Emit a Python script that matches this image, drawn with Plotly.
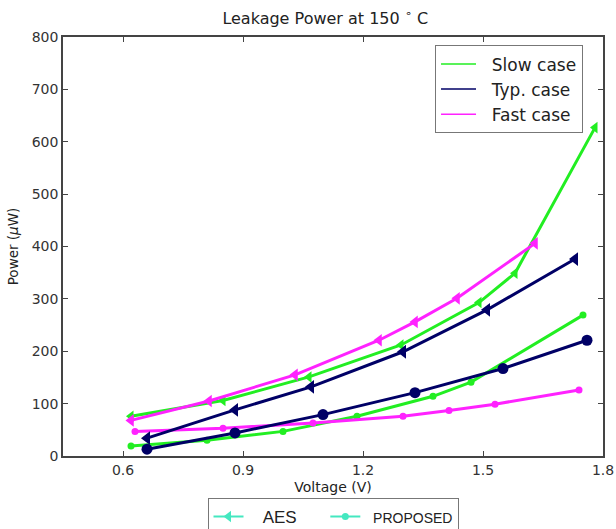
import plotly.graph_objects as go

# ---- data ----
slow_aes_v = [0.62, 0.85, 1.065, 1.295, 1.49, 1.58, 1.78]
slow_aes_p = [76, 106, 151, 212, 293, 349, 627]
typ_aes_v = [0.66, 0.88, 1.07, 1.30, 1.51, 1.73]
typ_aes_p = [34, 88, 132, 199, 279, 376]
fast_aes_v = [0.62, 0.815, 1.03, 1.24, 1.33, 1.435, 1.63]
fast_aes_p = [68, 105, 155, 221, 256, 301, 406]

slow_prop_v = [0.62, 0.81, 1.0, 1.185, 1.375, 1.47, 1.75]
slow_prop_p = [19, 30, 47, 76, 114, 141, 269]
typ_prop_v = [0.66, 0.88, 1.10, 1.33, 1.55, 1.76]
typ_prop_p = [13, 44, 79, 121, 167, 221]
fast_prop_v = [0.63, 0.85, 1.075, 1.30, 1.415, 1.53, 1.74]
fast_prop_p = [47, 53, 63, 76, 87, 99, 126]

case_names = ["Slow case", "Typ. case", "Fast case"]
method_names = ["AES", "PROPOSED"]
x_ticks = [0.6, 0.9, 1.2, 1.5, 1.8]
y_ticks = [0, 100, 200, 300, 400, 500, 600, 700, 800]

GREEN = "#22ee22"
NAVY = "#000066"
MAGENTA = "#ff22ff"
TURQ = "#44e8c0"

fig = go.Figure()

# PROPOSED curves (drawn first)
fig.add_trace(go.Scatter(x=slow_prop_v, y=slow_prop_p, mode="lines+markers",
                         line=dict(color=GREEN, width=3), marker=dict(symbol="circle", size=7, color=GREEN),
                         showlegend=False))
fig.add_trace(go.Scatter(x=fast_prop_v, y=fast_prop_p, mode="lines+markers",
                         line=dict(color=MAGENTA, width=3), marker=dict(symbol="circle", size=7, color=MAGENTA),
                         showlegend=False))
fig.add_trace(go.Scatter(x=typ_prop_v, y=typ_prop_p, mode="lines+markers",
                         line=dict(color=NAVY, width=3), marker=dict(symbol="circle", size=11, color=NAVY),
                         showlegend=False))
# AES curves
fig.add_trace(go.Scatter(x=slow_aes_v, y=slow_aes_p, mode="lines+markers",
                         line=dict(color=GREEN, width=3), marker=dict(symbol="triangle-left", size=10, color=GREEN),
                         showlegend=False))
fig.add_trace(go.Scatter(x=typ_aes_v, y=typ_aes_p, mode="lines+markers",
                         line=dict(color=NAVY, width=3), marker=dict(symbol="triangle-left", size=12, color=NAVY),
                         showlegend=False))
fig.add_trace(go.Scatter(x=fast_aes_v, y=fast_aes_p, mode="lines+markers",
                         line=dict(color=MAGENTA, width=3), marker=dict(symbol="triangle-left", size=11, color=MAGENTA),
                         showlegend=False))

# legend entries: cases
for name, col in zip(case_names, [GREEN, NAVY, MAGENTA]):
    fig.add_trace(go.Scatter(x=[None], y=[None], mode="lines", name="\u00a0\u00a0" + name,
                             line=dict(color=col, width=1.5), legend="legend"))
# legend entries: methods
fig.add_trace(go.Scatter(x=[None], y=[None], mode="lines+markers",
                         name="\u00a0" * 3 + method_names[0] + "\u00a0" * 5,
                         line=dict(color=TURQ, width=2), marker=dict(symbol="triangle-left", size=10, color=TURQ),
                         legend="legend2"))
fig.add_trace(go.Scatter(x=[None], y=[None], mode="lines+markers",
                         name="<span style='font-size:14px'>\u00a0\u00a0" + method_names[1] + "</span>",
                         line=dict(color=TURQ, width=2), marker=dict(symbol="circle", size=7, color=TURQ),
                         legend="legend2"))

axis_common = dict(showline=True, linecolor="#444444", linewidth=1.5, mirror="ticks",
                   ticks="inside", ticklen=5, tickcolor="#444444", tickwidth=1.2,
                   showgrid=False, zeroline=False, automargin=False,
                   tickfont=dict(family="DejaVu Sans", size=14, color="#333333"))

fig.update_layout(
    width=616, height=529,
    margin=dict(l=63, r=13, t=37, b=73, autoexpand=False),
    paper_bgcolor="white", plot_bgcolor="white",
    title=dict(text="Leakage Power at 150 <sup>∘</sup> C", x=0.528, xanchor="center", y=0.965, yanchor="middle",
               font=dict(family="DejaVu Sans", size=16, color="#222222")),
    xaxis=dict(range=[0.45, 1.8], tickvals=x_ticks, ticktext=[f"{v:.1f}" for v in x_ticks],
               title=dict(text="Voltage (V)", font=dict(family="DejaVu Sans", size=14, color="#222222"), standoff=6),
               **axis_common),
    yaxis=dict(range=[0, 800], tickvals=y_ticks,
               title=dict(text="Power (<i>μ</i>W)", font=dict(family="DejaVu Sans", size=13.5, color="#222222"), standoff=10),
               **axis_common),
    legend=dict(x=0.963, xanchor="right", y=0.98, yanchor="top",
                bgcolor="white", bordercolor="#777777", borderwidth=1,
                font=dict(family="DejaVu Sans", size=17, color="#222222"),
                tracegroupgap=0, itemwidth=35),
    legend2=dict(orientation="h", x=0.5, xanchor="center", y=-0.1, yanchor="top",
                 bgcolor="white", bordercolor="#777777", borderwidth=1,
                 font=dict(family="Liberation Sans", size=17, color="#222222"),
                 itemwidth=30),
)

fig.write_html("out.html")
